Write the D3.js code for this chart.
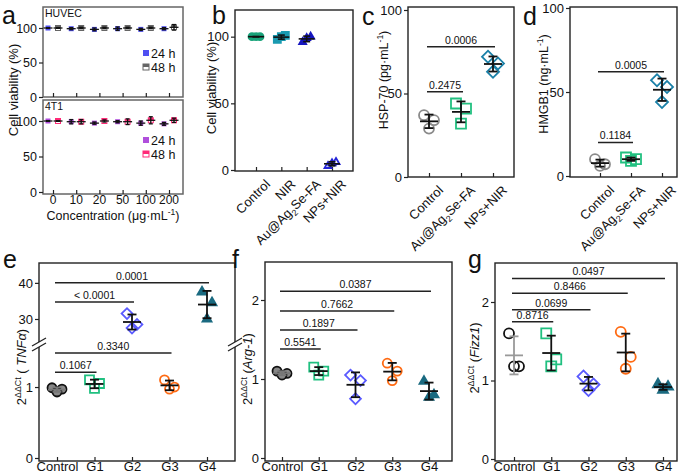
<!DOCTYPE html>
<html><head><meta charset="utf-8">
<script src="https://cdn.jsdelivr.net/npm/d3@7"></script>
<style>body{margin:0;background:#fff} text{font-family:"Liberation Sans",Arial,sans-serif;fill:#111}</style>
</head><body><svg id="c" width="685" height="474"></svg>
<script>
// ---------------- DATA ----------------
const concLabels = ["0","10","20","50","100","200"];
const huvec24Mean = [100,99,98,99,98,99];
const huvec24Sd   = [0.5,1.5,2,2.5,1.5,1.5];
const huvec48Mean = [100,100,100,100,100,101];
const huvec48Sd   = [0.5,1,1,1,1,4];
const t4t1_24Mean = [100,99,97,99,97,96];
const t4t1_24Sd   = [0.5,3,1.5,1.5,3,2];
const t4t1_48Mean = [100,99,100,99,101,101];
const t4t1_48Sd   = [0.5,3,1.5,4,5,3];

const bCats = ["Control","NIR","Au@Ag2Se-FA","NPs+NIR"];
const bVals = [[100,100,100],[98,101,100],[96,100,99],[3,6,5]];

const cdCats = ["Control","Au@Ag2Se-FA","NPs+NIR"];
const hspVals = [[37,34,29],[44,41,32],[72,68,63]];
const hspSig = [{from:0,to:1,v:51,label:"0.2475"},{from:0,to:2,v:78,label:"0.0006"}];
const hmgbVals = [[10,7,6],[11,10,9],[57,53,44]];
const hmgbSig = [{from:0,to:1,v:20,label:"0.1184"},{from:0,to:2,v:62,label:"0.0005"}];

const geneCats = ["Control","G1","G2","G3","G4"];
const tnfVals = [[0.99,0.97,0.93],[1.1,1.05,0.98],[31.5,28.5,27.5],[1.1,1.0,0.97],[37.5,34.5,30]];
const tnfSig = [{from:0,to:4,v:40,label:"0.0001"},{from:0,to:2,v:34.7,label:"< 0.0001"},
                {from:0,to:3,v:1.48,label:"0.3340"},{from:0,to:1,v:1.21,label:"0.1067"}];
const argVals = [[1.1,1.07,1.05],[1.15,1.1,1.05],[1.05,0.98,0.75],[1.2,1.1,0.98],[0.97,0.8,0.77]];
const argSig = [{from:0,to:4,v:2.11,label:"0.0387"},{from:0,to:3,v:1.86,label:"0.7662"},
                {from:0,to:2,v:1.62,label:"0.1897"},{from:0,to:1,v:1.38,label:"0.5541"}];
const fizzVals = [[1.6,1.18,1.18],[1.6,1.27,1.18],[1.05,0.95,0.88],[1.62,1.3,1.15],[0.95,0.92,0.88]];
const fizzSig = [{from:0,to:4,v:2.3,label:"0.0497"},{from:0,to:3,v:2.11,label:"0.8466"},
                 {from:0,to:2,v:1.9,label:"0.0699"},{from:0,to:1,v:1.75,label:"0.8716"}];

// ---------------- HELPERS ----------------
const svg = d3.select("#c");
const FF = '"Liberation Sans",Arial,sans-serif';

function rich(sel, parts, size){
  let shift = 0;
  parts.forEach(p=>{
    const target = p.sup ? -size*0.42 : p.sub ? size*0.28 : 0;
    const ts = sel.append("tspan").attr("dy", target - shift).text(p.t);
    shift = target;
    if (p.sup||p.sub) ts.attr("font-size", size*0.68);
    if (p.it) ts.attr("font-style","italic");
  });
}
function catParts(c){
  if (c === "Au@Ag2Se-FA") return [{t:"Au@Ag"},{t:"2",sub:true},{t:"Se-FA"}];
  return [{t:c}];
}
function frame(x0,y0,x1,y1,color,w){
  svg.append("rect").attr("x",x0).attr("y",y0).attr("width",x1-x0).attr("height",y1-y0)
    .attr("fill","none").attr("stroke",color||"#222").attr("stroke-width",w||1.4);
}
function leftAxis(x0, y, vals, fs){
  const g = svg.append("g").attr("transform",`translate(${x0},0)`)
    .call(d3.axisLeft(y).tickValues(vals).tickFormat(d=>String(d)).tickSize(4).tickSizeOuter(0).tickPadding(2));
  g.select(".domain").remove();
  g.selectAll("line").attr("stroke","#222").attr("stroke-width",1.2);
  g.selectAll("text").attr("font-size",fs||13).attr("font-family",FF).attr("fill","#111");
  return g;
}
function bottomTicks(y0, x, labels, fs){
  const g = svg.append("g").attr("transform",`translate(0,${y0})`)
    .call(d3.axisBottom(x).tickSize(-4).tickSizeOuter(0).tickPadding(1));
  g.select(".domain").remove();
  g.selectAll("line").attr("stroke","#222").attr("stroke-width",1.2);
  if (!labels) g.selectAll("text").remove();
  else g.selectAll("text").attr("font-size",fs||13).attr("font-family",FF).attr("fill","#111");
  return g;
}
function rotLabels(y0, x, cats){
  cats.forEach(c=>{
    const t = svg.append("text").attr("font-size",13).attr("text-anchor","end")
      .attr("transform",`translate(${x(c)+15},${y0+14}) rotate(-45)`);
    rich(t, catParts(c), 13);
  });
}
function yTitle(xb, yc, parts, fs){
  const t = svg.append("text").attr("font-size",fs||13).attr("text-anchor","middle")
    .attr("transform",`translate(${xb},${yc}) rotate(-90)`);
  rich(t, parts, fs||13);
}
function letter(x,y,l){
  svg.append("text").attr("x",x).attr("y",y).attr("font-size",25).text(l);
}
function symPath(shape, s){
  if (shape==="circle") return d3.symbol(d3.symbolCircle, Math.PI*s*s/4)();
  if (shape==="square") return d3.symbol(d3.symbolSquare, s*s)();
  if (shape==="diamond") return d3.symbol(d3.symbolSquare, s*s*0.72)();
  if (shape==="triangle") return d3.symbol(d3.symbolTriangle, Math.sqrt(3)/4*s*s)();
}
function marker(cx, cy, st, s){
  svg.append("path").attr("d", symPath(st.shape, s))
    .attr("transform",`translate(${cx},${cy})` + (st.shape==="diamond"?" rotate(45)":""))
    .attr("fill", st.fill || "none").attr("stroke", st.color).attr("stroke-width", st.sw || 1.8);
}
function errBar(cx, y, m, sd, color, meanW, capW, sw){
  const g = svg.append("g").attr("stroke", color||"#111").attr("stroke-width", sw||1.8);
  g.append("line").attr("x1",cx).attr("x2",cx).attr("y1",y(m-sd)).attr("y2",y(m+sd));
  [m-sd, m+sd].forEach(v=> g.append("line").attr("x1",cx-capW/2).attr("x2",cx+capW/2).attr("y1",y(v)).attr("y2",y(v)));
  g.append("line").attr("x1",cx-meanW/2).attr("x2",cx+meanW/2).attr("y1",y(m)).attr("y2",y(m));
}
const jit = [-5, 5, 0];
function dotGroups(x, y, cats, vals, styles, opt){
  cats.forEach((c,i)=>{
    const cx = x(c), st = styles[i];
    vals[i].forEach((v,j)=> marker(cx + jit[j]*(opt.jit||1), y(v), st, opt.size));
    errBar(cx, y, d3.mean(vals[i]), d3.deviation(vals[i]), st.err || "#111", opt.meanW, opt.capW, opt.sw);
  });
}
function sigBars(x, y, sigs){
  sigs.forEach(s=>{
    const x1 = x(x.domain()[s.from]) - 2, x2 = x(x.domain()[s.to]) + 2, yy = y(s.v);
    svg.append("line").attr("x1",x1).attr("x2",x2).attr("y1",yy).attr("y2",yy)
      .attr("stroke","#222").attr("stroke-width",1.5);
    svg.append("text").attr("x",(x1+x2)/2).attr("y",yy-3).attr("text-anchor","middle")
      .attr("font-size",10.5).text(s.label);
  });
}

// ---------------- PANEL A ----------------
{
  const xa = d3.scalePoint().domain(concLabels).range([53,169]);
  const subs = [
    {y: d3.scaleLinear().domain([0,100]).range([97,28]), top:7, bot:97, name:"HUVEC",
     m24:huvec24Mean, s24:huvec24Sd, m48:huvec48Mean, s48:huvec48Sd, c24:"#4f4ff2", c48:"#666", leg:[53,67]},
    {y: d3.scaleLinear().domain([0,100]).range([192,121]), top:100, bot:194, name:"4T1",
     m24:t4t1_24Mean, s24:t4t1_24Sd, m48:t4t1_48Mean, s48:t4t1_48Sd, c24:"#b04fdc", c48:"#ff2a78", leg:[140,154]}
  ];
  subs.forEach(p=>{
    frame(43,p.top,183,p.bot,"#666",1.5);
    leftAxis(43, p.y, [0,50,100], 12.5);
    bottomTicks(p.bot, xa, false);
    svg.append("text").attr("x",45).attr("y",p.top+10).attr("font-size",10.5).text(p.name);
    concLabels.forEach((c,i)=>{
      const cx = xa(c);
      svg.append("rect").attr("x",cx-5-2.5).attr("y",p.y(p.m24[i])-2.5).attr("width",5).attr("height",5).attr("fill",p.c24);
      svg.append("rect").attr("x",cx+5-2.5).attr("y",p.y(p.m48[i])-2.5).attr("width",5).attr("height",5).attr("fill","#fff").attr("stroke",p.c48).attr("stroke-width",1);
      svg.append("rect").attr("x",cx+5-2.5).attr("y",p.y(p.m48[i])-2.5).attr("width",5).attr("height",2.5).attr("fill",p.c48);
      errBar(cx-5, p.y, p.m24[i], p.s24[i], "#111", 9, 4, 1.3);
      errBar(cx+5, p.y, p.m48[i], p.s48[i], "#111", 9, 4, 1.3);
    });
    svg.append("rect").attr("x",143).attr("y",p.leg[0]-3).attr("width",6).attr("height",6).attr("fill",p.c24);
    svg.append("rect").attr("x",143).attr("y",p.leg[1]-3).attr("width",6).attr("height",6).attr("fill","#fff").attr("stroke",p.c48).attr("stroke-width",1);
    svg.append("rect").attr("x",143).attr("y",p.leg[1]-3).attr("width",6).attr("height",3).attr("fill",p.c48);
    svg.append("text").attr("x",151).attr("y",p.leg[0]+4.5).attr("font-size",12.5).text("24 h");
    svg.append("text").attr("x",151).attr("y",p.leg[1]+4.5).attr("font-size",12.5).text("48 h");
  });
  concLabels.forEach(c=> svg.append("text").attr("x",xa(c)).attr("y",204).attr("text-anchor","middle").attr("font-size",12).text(c));
  const t = svg.append("text").attr("x",113).attr("y",220).attr("text-anchor","middle").attr("font-size",12.5);
  rich(t,[{t:"Concentration (μg·mL"},{t:"-1",sup:true},{t:")"}],12.5);
  yTitle(18, 90, [{t:"Cell viability (%)"}], 13);
  letter(2,24,"a");
}

// ---------------- PANEL B ----------------
{
  const x = d3.scalePoint().domain(bCats).range([256,332]);
  const y = d3.scaleLinear().domain([0,120]).range([170,10]);
  frame(235,10,353,171);
  leftAxis(235, y, [0,50,100]);
  bottomTicks(171, x, false);
  const st = [{shape:"circle",color:"#19a37a",fill:"#19a37a"},{shape:"square",color:"#1a9ab0",fill:"#1a9ab0"},
              {shape:"triangle",color:"#1717c0",fill:"#1717c0"},{shape:"triangle",color:"#2424d8",fill:"none"}];
  dotGroups(x, y, bCats, bVals, st, {size:7, jit:0.8, meanW:16, capW:7, sw:1.6});
  rotLabels(171, x, bCats);
  yTitle(216, 88, [{t:"Cell viability (%)"}], 13);
  letter(212,24,"b");
}

// ---------------- PANELS C, D ----------------
function panelCD(x0,x1,xr,y,vals,sig,title,lt,lx,ylab){
  const x = d3.scalePoint().domain(cdCats).range(xr);
  frame(x0,7,x1,177);
  leftAxis(x0, y, [0,50,100]);
  bottomTicks(177, x, false);
  const st = [{shape:"circle",color:"#8a8a8a"},{shape:"square",color:"#22c080"},{shape:"diamond",color:"#1a80a8"}];
  dotGroups(x, y, cdCats, vals, st, {size:10, meanW:18, capW:9, sw:1.8});
  sigBars(x, y, sig);
  rotLabels(177, x, cdCats);
  yTitle(ylab[0], ylab[1], title, 12.5);
  letter(lx,25,lt);
}
panelCD(408,514,[429,493], d3.scaleLinear().domain([0,100]).range([177,10]), hspVals, hspSig,
  [{t:"HSP-70 (pg·mL"},{t:"-1",sup:true},{t:")"}], "c", 362, [388,80]);
panelCD(570,677,[600,662], d3.scaleLinear().domain([0,100]).range([176,8]), hmgbVals, hmgbSig,
  [{t:"HMGB1 (ng·mL"},{t:"-1",sup:true},{t:")"}], "d", 523, [548,84]);

// ---------------- PANELS E, F, G ----------------
const geneStyles = (ctrlFill, ctrlErr) => [
  {shape:"circle",color:"#111",fill:ctrlFill,err:ctrlErr},
  {shape:"square",color:"#20c080"},
  {shape:"diamond",color:"#5a5aff"},
  {shape:"circle",color:"#ff6a12"},
  {shape:"triangle",color:"#1a6a80",fill:"#1a6a80"}];

// e (broken axis)
{
  const x = d3.scalePoint().domain(geneCats).range([57,207]);
  const yLow = d3.scaleLinear().domain([0,1.55]).range([458,348]);
  const yHigh = d3.scaleLinear().domain([22.8,45.5]).range([345,263]);
  const y = v => v < 10 ? yLow(v) : yHigh(v);
  frame(39,263,235,461);
  leftAxis(39, yLow, [0,1]);
  leftAxis(39, yHigh, [30,40]);
  bottomTicks(461, x, true);
  [39,235].forEach(bx=>{
    svg.append("rect").attr("x",bx-3).attr("y",342).attr("width",6).attr("height",5).attr("fill","#fff");
    [-2.5,2.5].forEach(o=> svg.append("line").attr("x1",bx-7).attr("x2",bx+7).attr("y1",344.5+o+4).attr("y2",344.5+o-4)
      .attr("stroke","#222").attr("stroke-width",1.3));
  });
  dotGroups(x, y, geneCats, tnfVals, geneStyles("#888","#777"), {size:9, meanW:18, capW:9, sw:1.8});
  sigBars(x, y, tnfSig);
  yTitle(26, 367, [{t:"2"},{t:"ΔΔCt",sup:true},{t:" ( "},{t:"TNFα",it:true},{t:")"}], 13);
  letter(3,268,"e");
}
// f
{
  const x = d3.scalePoint().domain(geneCats).range([282,429]);
  const y = d3.scaleLinear().domain([0,2]).range([458,300]);
  frame(265,262,452,461);
  leftAxis(265, y, [0,1,2]);
  bottomTicks(461, x, true);
  dotGroups(x, y, geneCats, argVals, geneStyles("#888","#777"), {size:9, meanW:18, capW:9, sw:1.8});
  sigBars(x, y, argSig);
  yTitle(252, 369, [{t:"2"},{t:"ΔΔCt",sup:true},{t:" ("},{t:"Arg-1",it:true},{t:")"}], 13);
  letter(232,268,"f");
}
// g
{
  const x = d3.scalePoint().domain(geneCats).range([514,663]);
  const y = d3.scaleLinear().domain([0,2]).range([459,302]);
  frame(495,263,677,461);
  leftAxis(495, y, [0,1,2]);
  bottomTicks(461, x, true);
  dotGroups(x, y, geneCats, fizzVals, geneStyles("none","#999"), {size:10, meanW:18, capW:9, sw:1.8});
  sigBars(x, y, fizzSig);
  yTitle(479, 358, [{t:"2"},{t:"ΔΔCt",sup:true},{t:" ("},{t:"Fizz1",it:true},{t:")"}], 13);
  letter(468,268,"g");
}
</script></body></html>
